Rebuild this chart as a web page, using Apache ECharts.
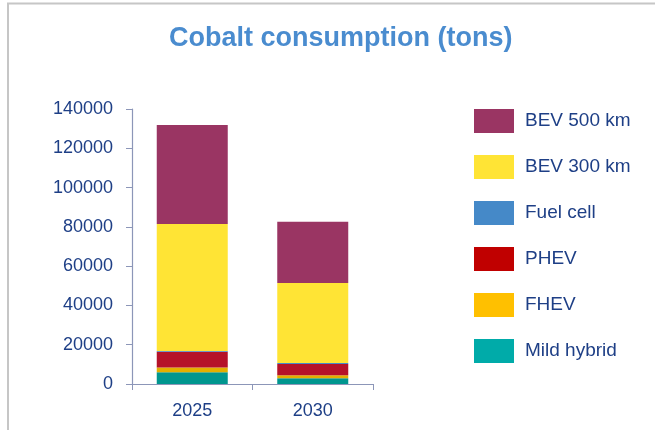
<!DOCTYPE html>
<html>
<head>
<meta charset="utf-8">
<script src="https://cdn.jsdelivr.net/npm/echarts@6/dist/echarts.min.js"></script>
<style>
  html, body { margin: 0; padding: 0; background: #fff; }
  #chart { width: 655px; height: 430px; }
</style>
</head>
<body>
<div id="chart"></div>
<script>
// Cobalt consumption by powertrain (tons)
const categories = ['2025', '2030'];
const mildHybrid = [6000, 2900];
const fhev = [2400, 1500];
const phev = [8000, 5800];
const fuelCell = [400, 500];
const bev300 = [64650, 40700];
const bev500 = [50400, 31200];
const yTicks = [0, 20000, 40000, 60000, 80000, 100000, 120000, 140000];

const FONT = 'Liberation Sans';
const NAVY = '#1E3F86';

// stack order bottom -> top, with bar colour and legend swatch colour
const layers = [
  { name: 'Mild hybrid', data: mildHybrid, bar: '#00968F', swatch: '#00ABA9' },
  { name: 'FHEV',        data: fhev,       bar: '#E3AF00', swatch: '#FFC000' },
  { name: 'PHEV',        data: phev,       bar: '#B51229', swatch: '#C00000' },
  { name: 'Fuel cell',   data: fuelCell,   bar: '#4589C8', swatch: '#4589C8' },
  { name: 'BEV 300 km',  data: bev300,     bar: '#FFE435', swatch: '#FFE435' },
  { name: 'BEV 500 km',  data: bev500,     bar: '#9A3563', swatch: '#9A3563' }
];

const chart = echarts.init(document.getElementById('chart'), null, { renderer: 'canvas' });

chart.setOption({
  animation: false,
  backgroundColor: '#fff',
  title: {
    text: 'Cobalt consumption (tons)',
    left: 164,
    top: 20,
    textStyle: { fontFamily: FONT, fontWeight: 'bold', fontSize: 27, color: '#4A8CCF' }
  },
  graphic: [{
    type: 'rect',
    shape: { x: 8, y: 3.5, width: 700, height: 500 },
    style: { fill: 'none', stroke: '#C6C6C6', lineWidth: 2 },
    silent: true
  }],
  legend: {
    orient: 'vertical',
    left: 469,
    top: 104,
    itemWidth: 40,
    itemHeight: 24,
    itemGap: 22,
    icon: 'rect',
    textStyle: { fontFamily: FONT, fontSize: 19, color: NAVY, padding: [0, 0, 0, 6] },
    data: layers.slice().reverse().map(l => ({ name: l.name, itemStyle: { color: l.swatch } }))
  },
  grid: { left: 132, right: 282, top: 109, bottom: 46, containLabel: false },
  xAxis: {
    type: 'category',
    data: categories,
    axisLine: { show: true, lineStyle: { color: '#8C96B8', width: 1.2 } },
    axisTick: { show: true, length: 6, lineStyle: { color: '#8C96B8' } },
    axisLabel: { fontFamily: FONT, fontSize: 18, color: NAVY, margin: 18 }
  },
  yAxis: {
    type: 'value',
    min: yTicks[0],
    max: yTicks[yTicks.length - 1],
    interval: yTicks[1] - yTicks[0],
    axisLine: { show: true, lineStyle: { color: '#8C96B8', width: 1.2 } },
    axisTick: { show: true, length: 6, lineStyle: { color: '#8C96B8' } },
    splitLine: { show: false },
    axisLabel: { fontFamily: FONT, fontSize: 18, color: NAVY, margin: 19, formatter: v => String(v) }
  },
  series: layers.map(l => ({
    name: l.name,
    type: 'bar',
    stack: 'total',
    barWidth: 71,
    data: l.data,
    itemStyle: { color: l.bar },
    emphasis: { disabled: true }
  }))
});
</script>
</body>
</html>
